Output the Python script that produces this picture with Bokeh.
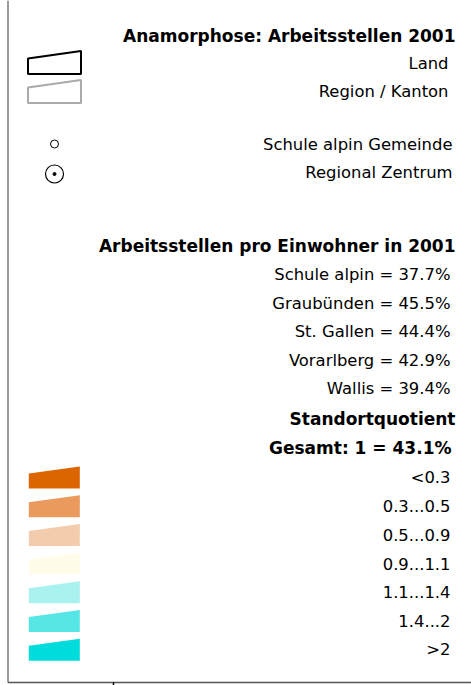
from bokeh.plotting import figure
from bokeh.models import Range1d
from bokeh.core.properties import value
from bokeh.embed import file_html
from bokeh.resources import INLINE

# ---- data ----
title1 = "Anamorphose: Arbeitsstellen 2001"
frame_labels = ["Land", "Region / Kanton"]
frame_colors = ["#000000", "#AAAAAA"]
point_labels = ["Schule alpin Gemeinde", "Regional Zentrum"]
title2 = "Arbeitsstellen pro Einwohner in 2001"
share_labels = ["Schule alpin = 37.7%", "Graubünden = 45.5%", "St. Gallen = 44.4%",
                "Vorarlberg = 42.9%", "Wallis = 39.4%"]
title3 = ["Standortquotient", "Gesamt: 1 = 43.1%"]
class_labels = ["<0.3", "0.3...0.5", "0.5...0.9", "0.9...1.1", "1.1...1.4", "1.4...2", ">2"]
class_colors = ["#DD6500", "#E99A5C", "#F2CCAD", "#FFFDE9", "#AAF2EF", "#56E6E6", "#00DCDC"]

W, H = 471, 685
p = figure(width=W, height=H, output_backend="svg", toolbar_location=None,
           x_range=Range1d(0, W), y_range=Range1d(H, 0), min_border=0)
p.axis.visible = False
p.grid.visible = False
p.outline_line_color = None

FONT = value("DejaVu Sans")
XR = 450  # right edge of texts

def txt(x, y, s, bold=False):
    p.text(x=[x], y=[y], text=[s], text_align="right", text_baseline="middle",
           text_font=FONT, text_font_size="17px" if bold else "16.4px",
           text_font_style="bold" if bold else "normal", text_color="#000000")

# frame
p.segment(x0=[7.5], y0=[0], x1=[7.5], y1=[682], line_color="#333333", line_width=1)
p.segment(x0=[7.5], y0=[682], x1=[W], y1=[682], line_color="#555555", line_width=1.5)
p.segment(x0=[113], y0=[682], x1=[113], y1=[H], line_color="#000000", line_width=1.5)

# header
txt(XR + 5, 35, title1, bold=True)
for i, (lab, col) in enumerate(zip(frame_labels, frame_colors)):
    txt(XR - 2, 63 + 28 * i, lab)
    top_r = 50.5 + 29 * i
    xs = [27.5, 80.5, 80.5, 27.5]
    ys = [top_r + 7.5, top_r, top_r + 23, top_r + 23]
    p.patch(xs, ys, fill_color=None, line_color=col, line_width=2)

# points
for i, lab in enumerate(point_labels):
    txt(XR + 2, 144 + 27.5 * i, lab)
p.scatter(x=[54], y=[143.5], size=8, marker="circle", fill_color=None,
          line_color="#000000", line_width=1)
p.scatter(x=[54], y=[173.5], size=18, marker="circle", fill_color=None,
          line_color="#000000", line_width=1.2)
p.scatter(x=[54], y=[173.5], size=3, marker="circle", fill_color="#000000",
          line_color="#000000")

# shares
txt(XR + 5, 245, title2, bold=True)
for i, lab in enumerate(share_labels):
    txt(XR, 274 + 28.6 * i, lab)
txt(XR + 5, 418, title3[0], bold=True)
txt(XR + 1, 447, title3[1], bold=True)

# classes
for i, (lab, col) in enumerate(zip(class_labels, class_colors)):
    top_r = 466 + 28.7 * i
    xs = [28.3, 79.3, 79.3, 28.3]
    ys = [top_r + 7, top_r, top_r + 22, top_r + 22]
    p.patch(xs, ys, fill_color=col, line_color=None)
    txt(XR, 477 + 28.7 * i, lab)

open("out.html", "w").write(file_html(p, INLINE))
